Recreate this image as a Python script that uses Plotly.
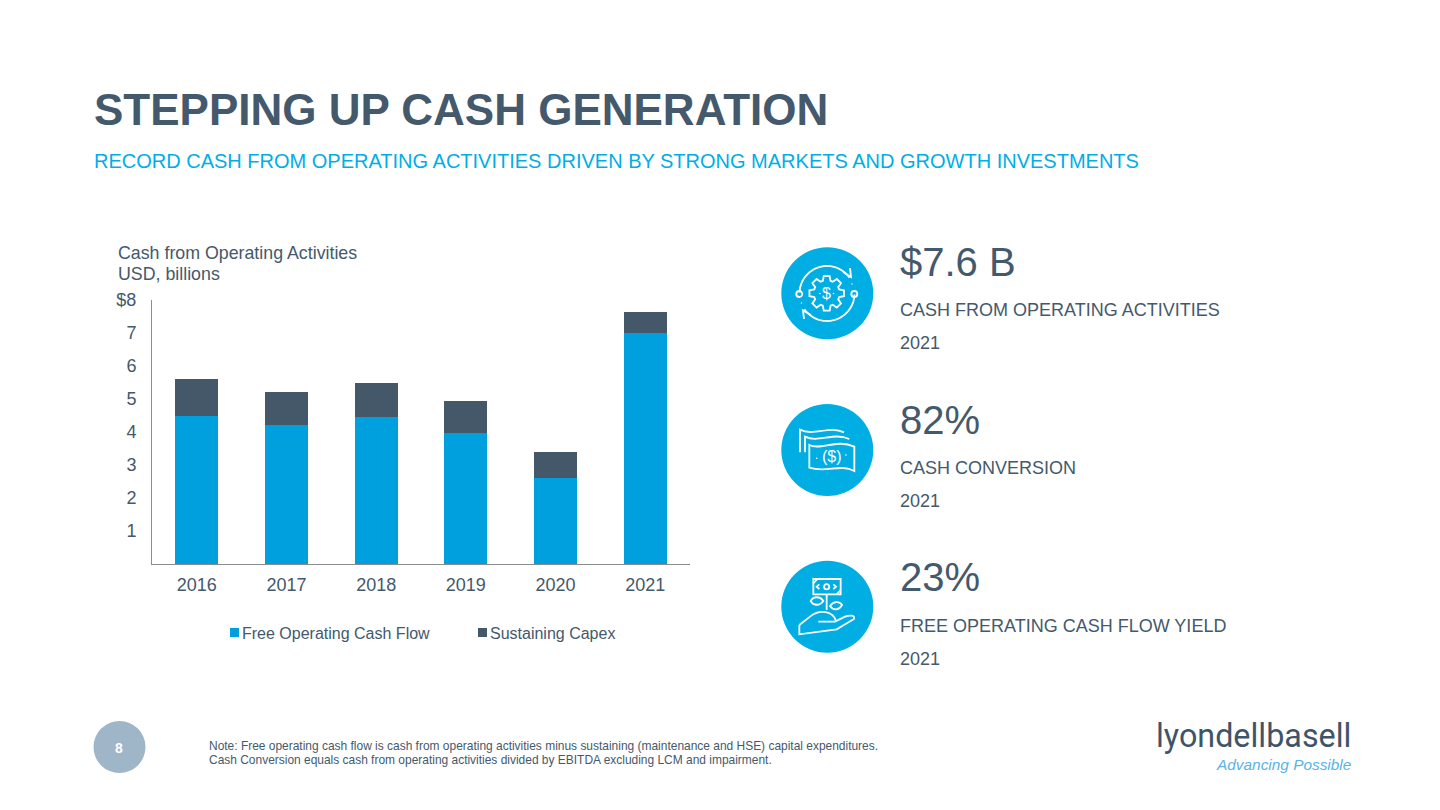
import math
import plotly.graph_objects as go

W, H = 1440, 810
FONT = "Liberation Sans"
BLUE = "#00A0DF"
DARK = "#44586A"
CYAN = "#00AEE4"
TEXT = "#44596C"

# ---- chart data ----
years = ["2016", "2017", "2018", "2019", "2020", "2021"]
free_cash_flow = [4.5, 4.2, 4.45, 3.97, 2.6, 7.0]
sustaining_capex = [1.1, 1.0, 1.03, 0.98, 0.8, 0.63]
y_ticks = [1, 2, 3, 4, 5, 6, 7, 8]
y_labels = ["1", "2", "3", "4", "5", "6", "7", "$8"]
series_names = ["Free Operating Cash Flow", "Sustaining Capex"]

def fx(x):
    return x / W

def fy(y):
    return 1 - y / H

fig = go.Figure()
fig.add_bar(name=series_names[0], x=years, y=free_cash_flow, marker_color=BLUE, marker_line_width=0)
fig.add_bar(name=series_names[1], x=years, y=sustaining_capex, marker_color=DARK, marker_line_width=0)

annotations = []
shapes = []

def text(x, y, s, size, color=TEXT, anchor="left", bold=False, italic=False, family=FONT):
    if bold:
        s = "<b>" + s + "</b>"
    if italic:
        s = "<i>" + s + "</i>"
    annotations.append(dict(
        x=fx(x), y=fy(y), xref="paper", yref="paper", text=s, showarrow=False,
        xanchor=anchor, yanchor="middle", borderpad=0, borderwidth=0,
        font=dict(family=family, size=size, color=color)))

def circle(cx, cy, r, fill=None, line=None, lw=1.8):
    shapes.append(dict(type="circle", xref="paper", yref="paper",
                       x0=fx(cx - r), x1=fx(cx + r), y0=fy(cy + r), y1=fy(cy - r),
                       fillcolor=fill if fill else "rgba(0,0,0,0)",
                       line=dict(color=line if line else "rgba(0,0,0,0)", width=lw if line else 0)))

def path(cmds, ox=0, oy=0, scale=1.0, lw=1.8, color="white", fill=None):
    out = []
    for c in cmds:
        if c[0] == "Z":
            out.append("Z")
            continue
        nums = c[1:]
        pts = []
        for i in range(0, len(nums), 2):
            pts.append(f"{fx(ox + nums[i] * scale):.5f},{fy(oy + nums[i + 1] * scale):.5f}")
        out.append(c[0] + " ".join(pts))
    shapes.append(dict(type="path", xref="paper", yref="paper", path=" ".join(out),
                       line=dict(color=color, width=lw),
                       fillcolor=fill if fill else "rgba(0,0,0,0)"))

def poly(pts):
    return [("M", *pts[0])] + [("L", *p) for p in pts[1:]]

# ---- headings ----
text(94, 109, "STEPPING UP CASH GENERATION", 44, TEXT, bold=True)
text(94, 161, "RECORD CASH FROM OPERATING ACTIVITIES DRIVEN BY STRONG MARKETS AND GROWTH INVESTMENTS", 20, CYAN)
text(118, 253.5, "Cash from Operating Activities", 17.8, TEXT)
text(118, 273.5, "USD, billions", 17.8, TEXT)

# ---- hand-placed legend keys ----
for lx, col, name in [(230, BLUE, series_names[0]), (478, DARK, series_names[1])]:
    shapes.append(dict(type="rect", xref="paper", yref="paper", x0=fx(lx), x1=fx(lx + 9),
                       y0=fy(637), y1=fy(628), fillcolor=col, line=dict(width=0)))
    text(lx + 12, 633, name, 16, TEXT)

# ---- KPI texts ----
kpis = [("$7.6 B", "CASH FROM OPERATING ACTIVITIES", 262, 310, 343),
        ("82%", "CASH CONVERSION", 420, 468, 501),
        ("23%", "FREE OPERATING CASH FLOW YIELD", 577, 626, 659)]
for big, label, y1, y2, y3 in kpis:
    text(900, y1, big, 40, TEXT)
    text(900, y2, label, 18, TEXT)
    text(900, y3, "2021", 18, TEXT)

# ---- icon 1: gear with circular arrows ----
circle(827.3, 293.3, 46, CYAN)
cx, cy = 826.7, 293.3
gear = []
for i in range(8):
    a = i * math.pi / 4
    for da, r in [(-0.30, 13), (-0.17, 17.5), (0.17, 17.5), (0.30, 13)]:
        gear.append((cx + r * math.cos(a + da), cy + r * math.sin(a + da)))
path(poly(gear) + [("Z",)])
def arc(a0, a1, r=27.5, n=30):
    return [(827 + r * math.cos(math.radians(a0 + (a1 - a0) * k / n)),
             293.5 + r * math.sin(math.radians(a0 + (a1 - a0) * k / n))) for k in range(n + 1)]
path(poly(arc(182, 325)))
path(poly(arc(2, 145)))
path(poly([(843, 272), (851, 277), (850, 268)]))
path(poly([(811, 315), (803, 310.5), (804, 319)]))
circle(799.3, 294, 3, None, "white")
circle(854.3, 294, 3, None, "white")
circle(820, 293.5, 0.8, "white")
circle(833.5, 293.5, 0.8, "white")
circle(801.5, 303, 0.7, "white")
circle(852, 284, 0.7, "white")
text(826.7, 293.5, "$", 16, "white", anchor="center")

# ---- icon 2: banknotes ----
circle(827.3, 450, 46, CYAN)
path([("M", 118, 150), ("C", 150, 168, 200, 130, 253, 155), ("L", 253, 228),
      ("C", 210, 205, 170, 235, 118, 218), ("Z",)], 770, 395, 1 / 3)
path([("M", 105, 172), ("L", 105, 125), ("C", 145, 145, 190, 110, 238, 132)], 770, 395, 1 / 3)
path([("M", 90, 172), ("L", 90, 104), ("C", 130, 125, 180, 90, 222, 112)], 770, 395, 1 / 3)
text(831.5, 456.5, "($)", 16, "white", anchor="center")
circle(816.7, 458.3, 0.8, "white")
circle(846, 455, 0.8, "white")

# ---- icon 3: hand with plant and banknote ----
circle(827.3, 606.7, 46, CYAN)
path([("M", 130, 552), ("L", 212, 552), ("L", 212, 598), ("L", 130, 598), ("Z",)], 770, 395, 1 / 3)
circle(826.7, 586.7, 2.6, None, "white")
path([("M", 148, 568), ("L", 140, 575), ("L", 148, 582)], 770, 395, 1 / 3)
path([("M", 190, 568), ("L", 198, 575), ("L", 190, 582)], 770, 395, 1 / 3)
path([("M", 130, 565), ("L", 142, 552)], 770, 395, 1 / 3)
path([("M", 200, 598), ("L", 212, 585)], 770, 395, 1 / 3)
path([("M", 170, 598), ("L", 170, 645)], 770, 395, 1 / 3)
path([("M", 122, 618), ("C", 130, 603, 150, 603, 160, 618), ("C", 150, 633, 130, 633, 122, 618), ("Z",)], 770, 395, 1 / 3)
path([("M", 180, 633), ("C", 190, 618, 208, 618, 216, 630), ("C", 206, 647, 190, 647, 180, 633), ("Z",)], 770, 395, 1 / 3)
path([("M", 88, 690), ("L", 88, 718), ("L", 200, 703), ("L", 252, 672),
      ("C", 256, 660, 240, 660, 225, 665), ("L", 195, 680), ("L", 145, 680)], 770, 395, 1 / 3)
path([("M", 198, 678), ("C", 190, 650, 150, 640, 120, 665), ("L", 88, 690)], 770, 395, 1 / 3)

# ---- footer ----
circle(119.5, 747, 26, "#9FB6C9")
text(119, 748, "8", 14, "white", anchor="center", bold=True)
text(209, 746, "Note: Free operating cash flow is cash from operating activities minus sustaining (maintenance and HSE) capital expenditures.", 11.96, TEXT)
text(209, 760, "Cash Conversion equals cash from operating activities divided by EBITDA excluding LCM and impairment.", 11.96, TEXT)

# ---- logo ----
text(1351, 736, "lyondellbasell", 32.3, "#3F5468", anchor="right", family="Roboto")
text(1351, 764.5, "Advancing Possible", 15.4, "#5AB2E6", anchor="right", italic=True, family=FONT)

fig.update_layout(
    width=W, height=H, barmode="stack", bargap=0.52, showlegend=False,
    margin=dict(l=0, r=0, t=0, b=0, pad=0),
    paper_bgcolor="white", plot_bgcolor="white",
    font=dict(family=FONT, size=18, color=TEXT),
    shapes=shapes, annotations=annotations,
    xaxis=dict(domain=[152 / W, 690 / W], type="category", showgrid=False, zeroline=False,
               automargin=False, showline=True, linecolor="#8C8C8C", linewidth=1,
               ticks="outside", ticklen=4, tickcolor="rgba(0,0,0,0)", tickwidth=1),
    yaxis=dict(domain=[1 - 564 / H, 1 - 300 / H], range=[0, 8], showgrid=False, zeroline=False,
               automargin=False, showline=True, linecolor="#8C8C8C", linewidth=1,
               tickmode="array", tickvals=y_ticks, ticktext=y_labels,
               ticks="outside", ticklen=11, tickcolor="rgba(0,0,0,0)", tickwidth=1),
)

fig.write_html("out.html", config=dict(displayModeBar=False), post_script="document.body.style.margin='0';")
